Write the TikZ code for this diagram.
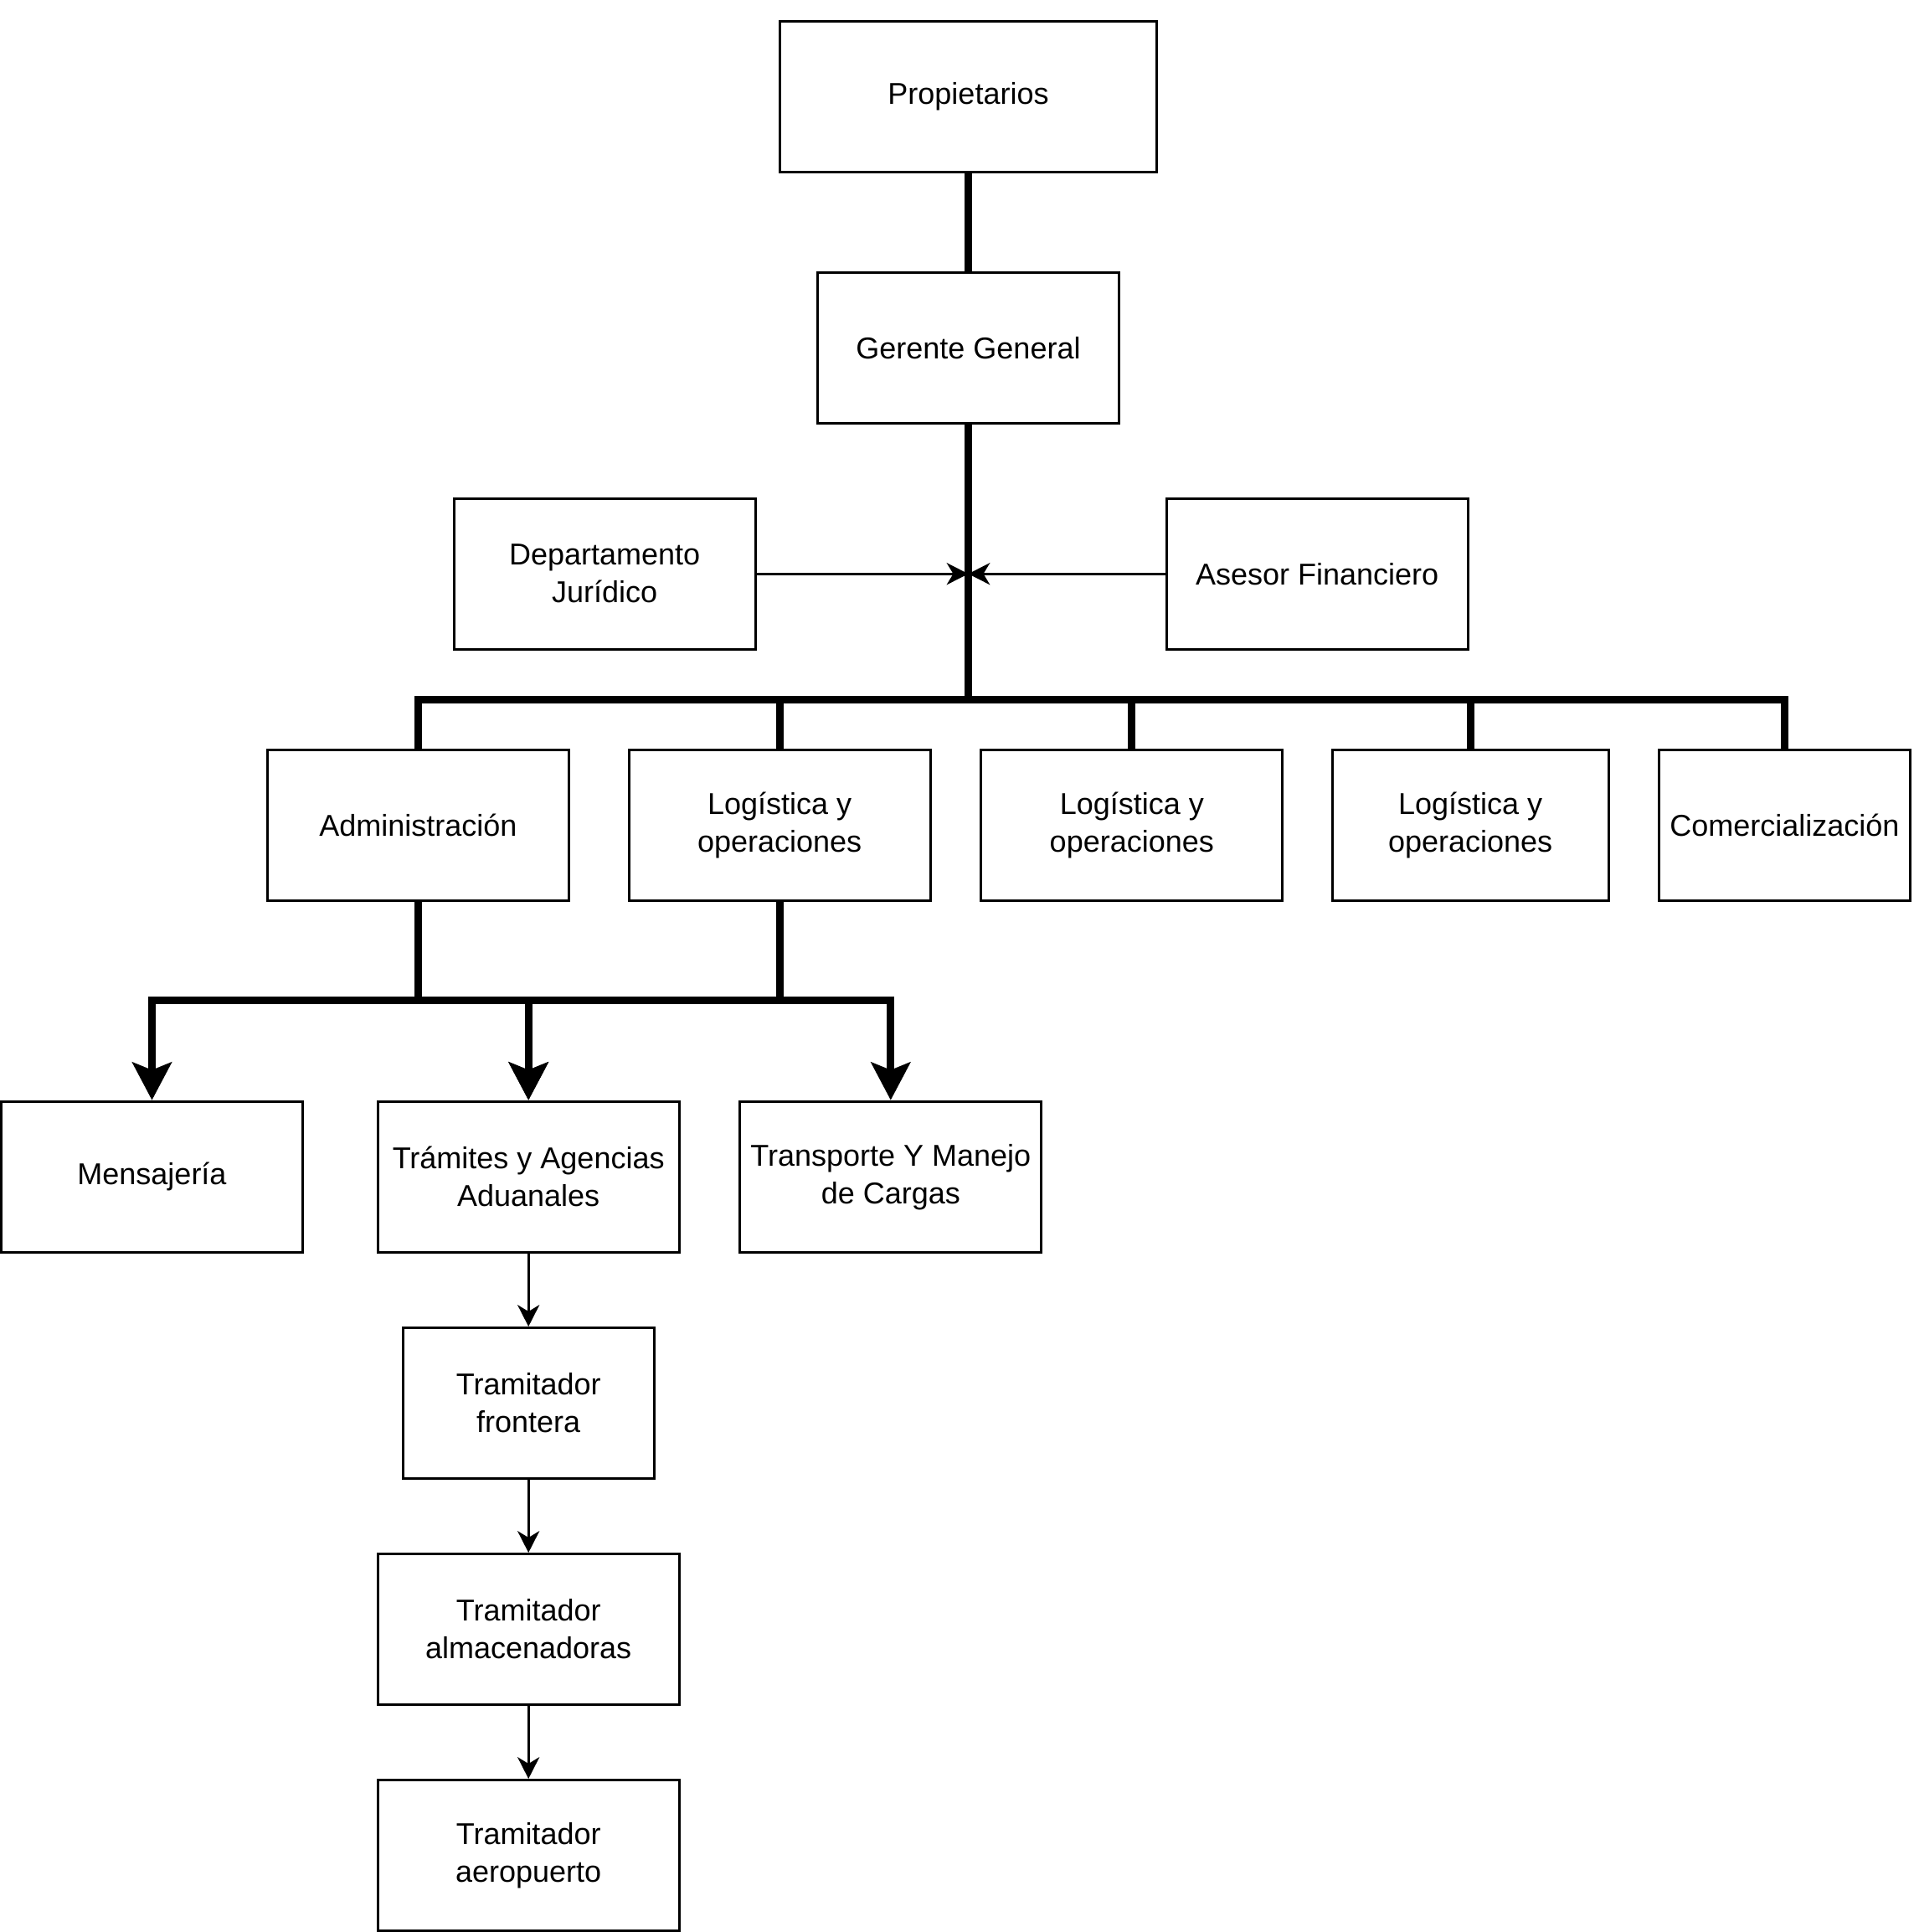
\documentclass[tikz,border=0pt]{standalone}
\usepackage{fontspec}
\setmainfont{Liberation Sans}
\usetikzlibrary{arrows.meta}
\begin{document}
\begin{tikzpicture}
[x=1pt,y=-1pt,color=black,
 box/.style={draw,line width=1pt,minimum width=120pt,minimum height=60pt,
   inner sep=0pt,align=center,font=\fontsize{12}{15}\selectfont},
 heavy/.style={line width=3pt},
 heavyarrow/.style={line width=3pt,-{Stealth[length=15pt,width=15.5pt,inset=3pt]}},
 thinarrow/.style={line width=1pt,-{Stealth[length=8.6pt,width=8.7pt,inset=2.6pt]}}]
\useasboundingbox (0,0) rectangle (762,769);
\node [box,minimum width=150pt] (n0) at (385.5,38.4) {Propietarios};
\node [box] (n1) at (385.5,138.4) {Gerente General};
\node [box] (n2) at (240.7,228.4) {Departamento\\Jurídico};
\node [box] (n3) at (524.4,228.4) {Asesor Financiero};
\node [box] (n4) at (166.5,328.5) {Administración};
\node [box] (n5) at (310.4,328.5) {Logística y\\operaciones};
\node [box] (n6) at (450.6,328.5) {Logística y\\operaciones};
\node [box,minimum width=110pt] (n7) at (585.4,328.5) {Logística y\\operaciones};
\node [box,minimum width=100pt] (n8) at (710.5,328.5) {Comercialización};
\node [box] (n9) at (60.5,468.4) {Mensajería};
\node [box] (n10) at (210.4,468.4) {Trámites y Agencias\\Aduanales};
\node [box] (n11) at (354.6,468.4) {Transporte Y Manejo\\de Cargas};
\node [box,minimum width=100pt] (n12) at (210.4,558.5) {Tramitador\\frontera};
\node [box] (n13) at (210.4,648.5) {Tramitador\\almacenadoras};
\node [box] (n14) at (210.4,738.5) {Tramitador\\aeropuerto};
\coordinate (c0) at (385.5,228.4);
\coordinate (b0) at (385.5,278.4);
\coordinate (b1) at (166.5,398.2);
\coordinate (b2) at (310.4,398.2);
\draw [heavy] (n0) -- (n1);
\draw [heavy] (n1) -- (b0) -| (n4);
\draw [heavy] (n1) -- (b0) -| (n5);
\draw [heavy] (n1) -- (b0) -| (n6);
\draw [heavy] (n1) -- (b0) -| (n7);
\draw [heavy] (n1) -- (b0) -| (n8);
\draw [thinarrow] (n2) -- (c0);
\draw [thinarrow] (n3) -- (c0);
\draw [heavyarrow] (n4) -- (b1) -| (n9);
\draw [heavyarrow] (n4) -- (b1) -| (n10);
\draw [heavyarrow] (n5) -- (b2) -| (n10);
\draw [heavyarrow] (n5) -- (b2) -| (n11);
\draw [thinarrow] (n10) -- (n12);
\draw [thinarrow] (n12) -- (n13);
\draw [thinarrow] (n13) -- (n14);
\end{tikzpicture}
\end{document}
